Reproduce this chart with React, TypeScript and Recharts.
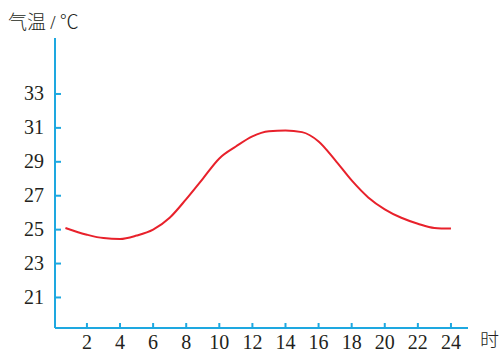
import { LineChart, Line, XAxis, YAxis } from "recharts";

const hours = [0.7, 2, 3, 4, 5, 6, 7, 8, 9, 10, 11, 12, 13, 14, 15, 16, 17, 18, 19, 20, 21, 22, 23, 24];
const temps = [25.1, 24.7, 24.5, 24.45, 24.65, 25.0, 25.7, 26.8, 28.0, 29.2, 29.9, 30.5, 30.8, 30.85, 30.75, 30.2, 29.1, 27.9, 26.9, 26.2, 25.7, 25.35, 25.1, 25.06];
const xTicks = [2, 4, 6, 8, 10, 12, 14, 16, 18, 20, 22, 24];
const yTicks = [21, 23, 25, 27, 29, 31, 33];

const data = hours.map((h, i) => ({ hour: h, temp: temps[i] }));

const AXIS = "#1ea8e0";
const TEXT = "#231f20";
const SERIF = "'Liberation Serif', 'DejaVu Serif', serif";
const CJK = "'Noto Sans CJK SC', sans-serif";

const XTick = ({ x, y, payload }: any) => (
  <g>
    <line x1={x} y1={y} x2={x} y2={y - 5} stroke={AXIS} strokeWidth={2} />
    <text x={x} y={y + 21} textAnchor="middle" fill={TEXT} style={{ fontSize: 20, fontFamily: SERIF }}>
      {payload.value}
    </text>
  </g>
);

const YTick = ({ x, y, payload }: any) => (
  <g>
    <line x1={x + 11} y1={y} x2={x + 17} y2={y} stroke={AXIS} strokeWidth={2} />
    <text x={x} y={y} dy={6.5} textAnchor="end" fill={TEXT} style={{ fontSize: 20, fontFamily: SERIF }}>
      {payload.value}
    </text>
  </g>
);

export default function App() {
  return (
    <div style={{ position: "absolute", left: 0, top: 0, width: 503, height: 353, background: "#fff" }}>
      <LineChart width={503} height={353} data={data} margin={{ top: 38, right: 35, left: 0, bottom: 0 }}>
        <XAxis
          dataKey="hour"
          type="number"
          domain={[0.07, 25.03]}
          ticks={xTicks}
          height={25}
          tickSize={0}
          tickMargin={0}
          tickLine={false}
          axisLine={{ stroke: AXIS, strokeWidth: 2 }}
          tick={<XTick />}
          allowDataOverflow
        />
        <YAxis
          type="number"
          domain={[19.2, 36.3]}
          ticks={yTicks}
          width={55}
          tickSize={0}
          tickMargin={11}
          tickLine={false}
          axisLine={{ stroke: AXIS, strokeWidth: 2 }}
          tick={<YTick />}
          allowDataOverflow
        />
        <Line
          dataKey="temp"
          type="monotone"
          stroke="#e8212b"
          strokeWidth={2}
          dot={false}
          isAnimationActive={false}
        />
      </LineChart>
      <div style={{ position: "absolute", left: 8, top: 9, fontSize: 19, color: TEXT, fontFamily: CJK, fontWeight: 300, whiteSpace: "nowrap", lineHeight: "24px" }}>
        气温 <span style={{ fontFamily: SERIF }}>/</span> ℃
      </div>
      <div style={{ position: "absolute", left: 480, top: 327, fontSize: 19, color: TEXT, fontFamily: CJK, fontWeight: 300, lineHeight: "24px" }}>
        时
      </div>
    </div>
  );
}
